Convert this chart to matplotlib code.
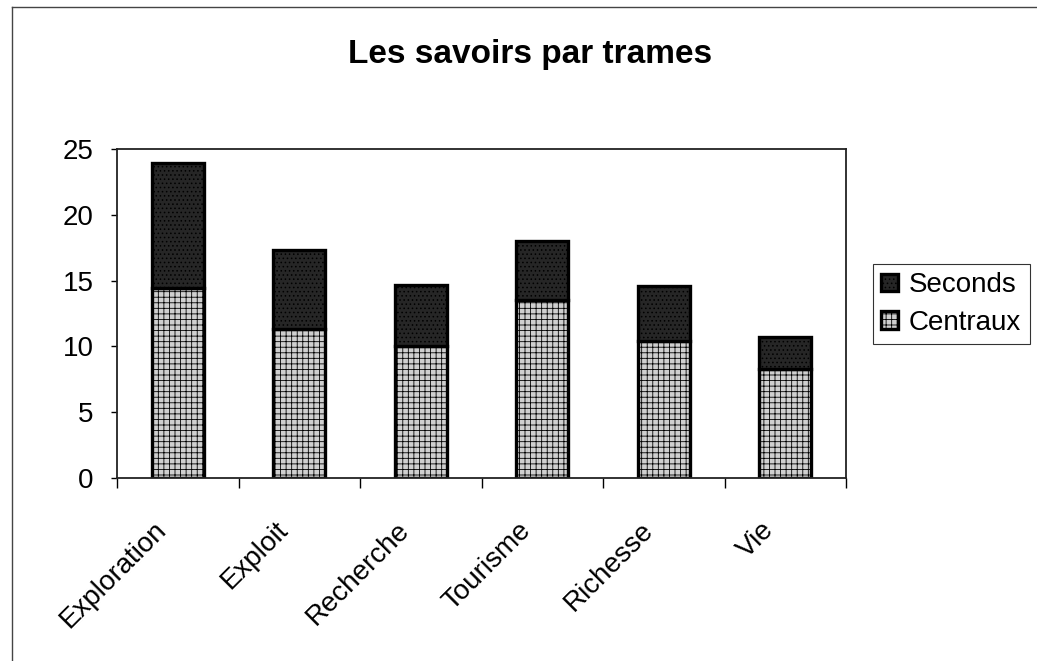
import numpy as np
import matplotlib.pyplot as plt
from matplotlib.lines import Line2D
from matplotlib.transforms import ScaledTranslation

plt.rcParams['font.family'] = ['Liberation Sans', 'DejaVu Sans']
plt.rcParams['hatch.linewidth'] = 0.6

# data
categories = ['Exploration', 'Exploit', 'Recherche', 'Tourisme', 'Richesse', 'Vie']
centraux = [14.4, 11.3, 10.0, 13.5, 10.4, 8.3]
seconds = [9.5, 6.0, 4.7, 4.5, 4.2, 2.4]

fig = plt.figure(figsize=(10.37, 6.61), dpi=100)
ax = fig.add_axes([117 / 1037, 1 - 478 / 661, (846 - 117) / 1037, (478 - 149) / 661])

x = np.arange(len(categories))
width = 0.43

plt.rcParams['hatch.color'] = '#707070'
b1 = ax.bar(x, centraux, width, color='#cfcfcf', edgecolor='black', linewidth=2.4,
            hatch='+++', label='Centraux')
plt.rcParams['hatch.color'] = '#8a8a8a'
b2 = ax.bar(x, seconds, width, bottom=centraux, color='#262626', edgecolor='black',
            linewidth=2.4, hatch='....', label='Seconds')

ax.set_xlim(-0.5, len(categories) - 0.5)
ax.set_ylim(0, 25)
ax.set_yticks(range(0, 26, 5))
ax.tick_params(axis='y', labelsize=20, length=4, width=1, direction='out', pad=13)

ax.set_xticks(x)
ax.set_xticklabels(categories, rotation=45, ha='right', rotation_mode='anchor', fontsize=20)
ax.set_xticks(np.arange(-0.5, len(categories), 1), minor=True)
ax.tick_params(axis='x', which='major', length=0, pad=28)
ax.tick_params(axis='x', which='minor', length=7, width=1, direction='out')
shift = ScaledTranslation(-24 / 100, 0, fig.dpi_scale_trans)
for lab in ax.get_xticklabels():
    lab.set_transform(lab.get_transform() + shift)

for side in ax.spines.values():
    side.set_linewidth(1.3)
    side.set_color('#222222')

fig.text(530 / 1037, 1 - 63 / 661, 'Les savoirs par trames', ha='center', va='baseline',
         fontsize=24, fontweight='bold')

leg = fig.legend(handles=[b2, b1], labels=['Seconds', 'Centraux'], loc='center left',
                 bbox_to_anchor=(873 / 1037, 1 - 304 / 661), fontsize=20, frameon=True,
                 fancybox=False, edgecolor='black', handlelength=0.6, handleheight=0.6,
                 handletextpad=0.4, labelspacing=0.4, borderpad=0.3, borderaxespad=0)
leg.get_frame().set_linewidth(0.8)

# chart-area border (left and top edges visible)
fig.add_artist(Line2D([12 / 1037, 12 / 1037], [0, 1 - 7 / 661], transform=fig.transFigure,
                      color='#444444', linewidth=1))
fig.add_artist(Line2D([12 / 1037, 1], [1 - 7 / 661, 1 - 7 / 661], transform=fig.transFigure,
                      color='#444444', linewidth=1))

fig.savefig('out.png', dpi=100)
